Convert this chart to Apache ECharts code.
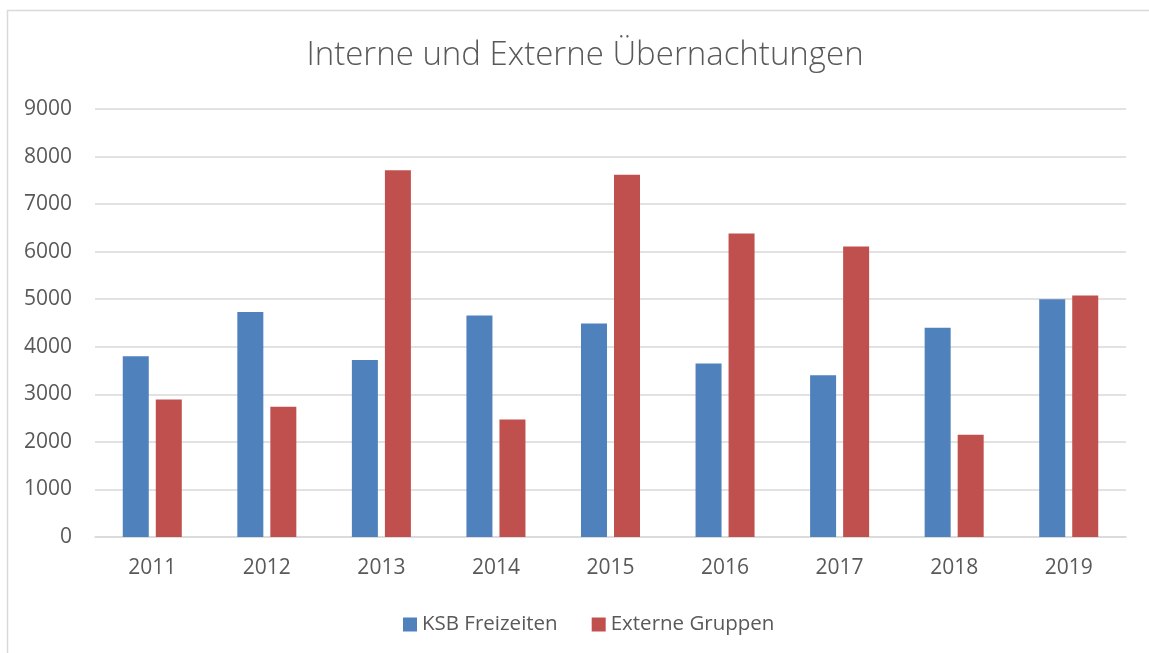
<!DOCTYPE html>
<html>
<head>
<meta charset="utf-8">
<title>Interne und Externe Übernachtungen</title>
<script src="https://cdn.jsdelivr.net/npm/echarts@6/dist/echarts.min.js"></script>
<style>
  html, body { margin: 0; padding: 0; background: #ffffff; }
  #chart { width: 1149px; height: 653px; }
</style>
</head>
<body>
<div id="chart"></div>
<script>
// Jahre und Werte
var years = ["2011", "2012", "2013", "2014", "2015", "2016", "2017", "2018", "2019"];
var ksbFreizeiten = [3800, 4730, 3720, 4660, 4490, 3650, 3400, 4400, 5000];
var externeGruppen = [2890, 2740, 7710, 2470, 7620, 6380, 6110, 2150, 5080];
var seriesNames = ["KSB Freizeiten", "Externe Gruppen"];

var textColor = "#595959";
var fontName = "'Open Sans', 'Noto Sans', sans-serif";

var myChart = echarts.init(document.getElementById("chart"));

var option = {
  backgroundColor: "#ffffff",
  animation: false,
  color: ["#4f81bd", "#c0504d"],
  // Rahmen wie im Excel-Diagramm
  graphic: [{
    type: "rect",
    shape: { x: 7.5, y: 10.5, width: 1160, height: 700 },
    style: { fill: "none", stroke: "#d9d9d9", lineWidth: 1.5 },
    silent: true
  }],
  title: {
    text: "Interne und Externe Übernachtungen",
    left: 580,
    top: 34,
    textAlign: "center",
    textStyle: {
      fontFamily: fontName,
      fontWeight: 300,
      fontSize: 33,
      color: textColor
    }
  },
  legend: {
    data: seriesNames,
    left: 398,
    top: 609,
    icon: "rect",
    itemWidth: 14,
    itemHeight: 14,
    itemGap: 34,
    textStyle: {
      fontFamily: fontName,
      fontSize: 20.5,
      color: textColor
    }
  },
  grid: {
    left: 95,
    right: 23,
    top: 109,
    bottom: 116
  },
  xAxis: {
    type: "category",
    data: years,
    axisTick: { show: false },
    axisLine: { lineStyle: { color: "#d9d9d9", width: 1.5 } },
    axisLabel: {
      margin: 21,
      fontFamily: fontName,
      fontSize: 21,
      color: textColor
    }
  },
  yAxis: {
    type: "value",
    min: 0,
    max: 9000,
    interval: 1000,
    axisLine: { show: false },
    axisTick: { show: false },
    splitLine: { lineStyle: { color: "#d9d9d9", width: 1.5 } },
    axisLabel: {
      margin: 23,
      fontFamily: fontName,
      fontSize: 21,
      color: textColor,
      formatter: function (v) { return String(v); }
    }
  },
  series: [
    {
      name: seriesNames[0],
      type: "bar",
      data: ksbFreizeiten,
      barWidth: 26,
      barGap: "27%"
    },
    {
      name: seriesNames[1],
      type: "bar",
      data: externeGruppen,
      barWidth: 26,
      barGap: "27%"
    }
  ]
};

myChart.setOption(option);
window.addEventListener("resize", function () {
  myChart.resize();
});
</script>
</body>
</html>
